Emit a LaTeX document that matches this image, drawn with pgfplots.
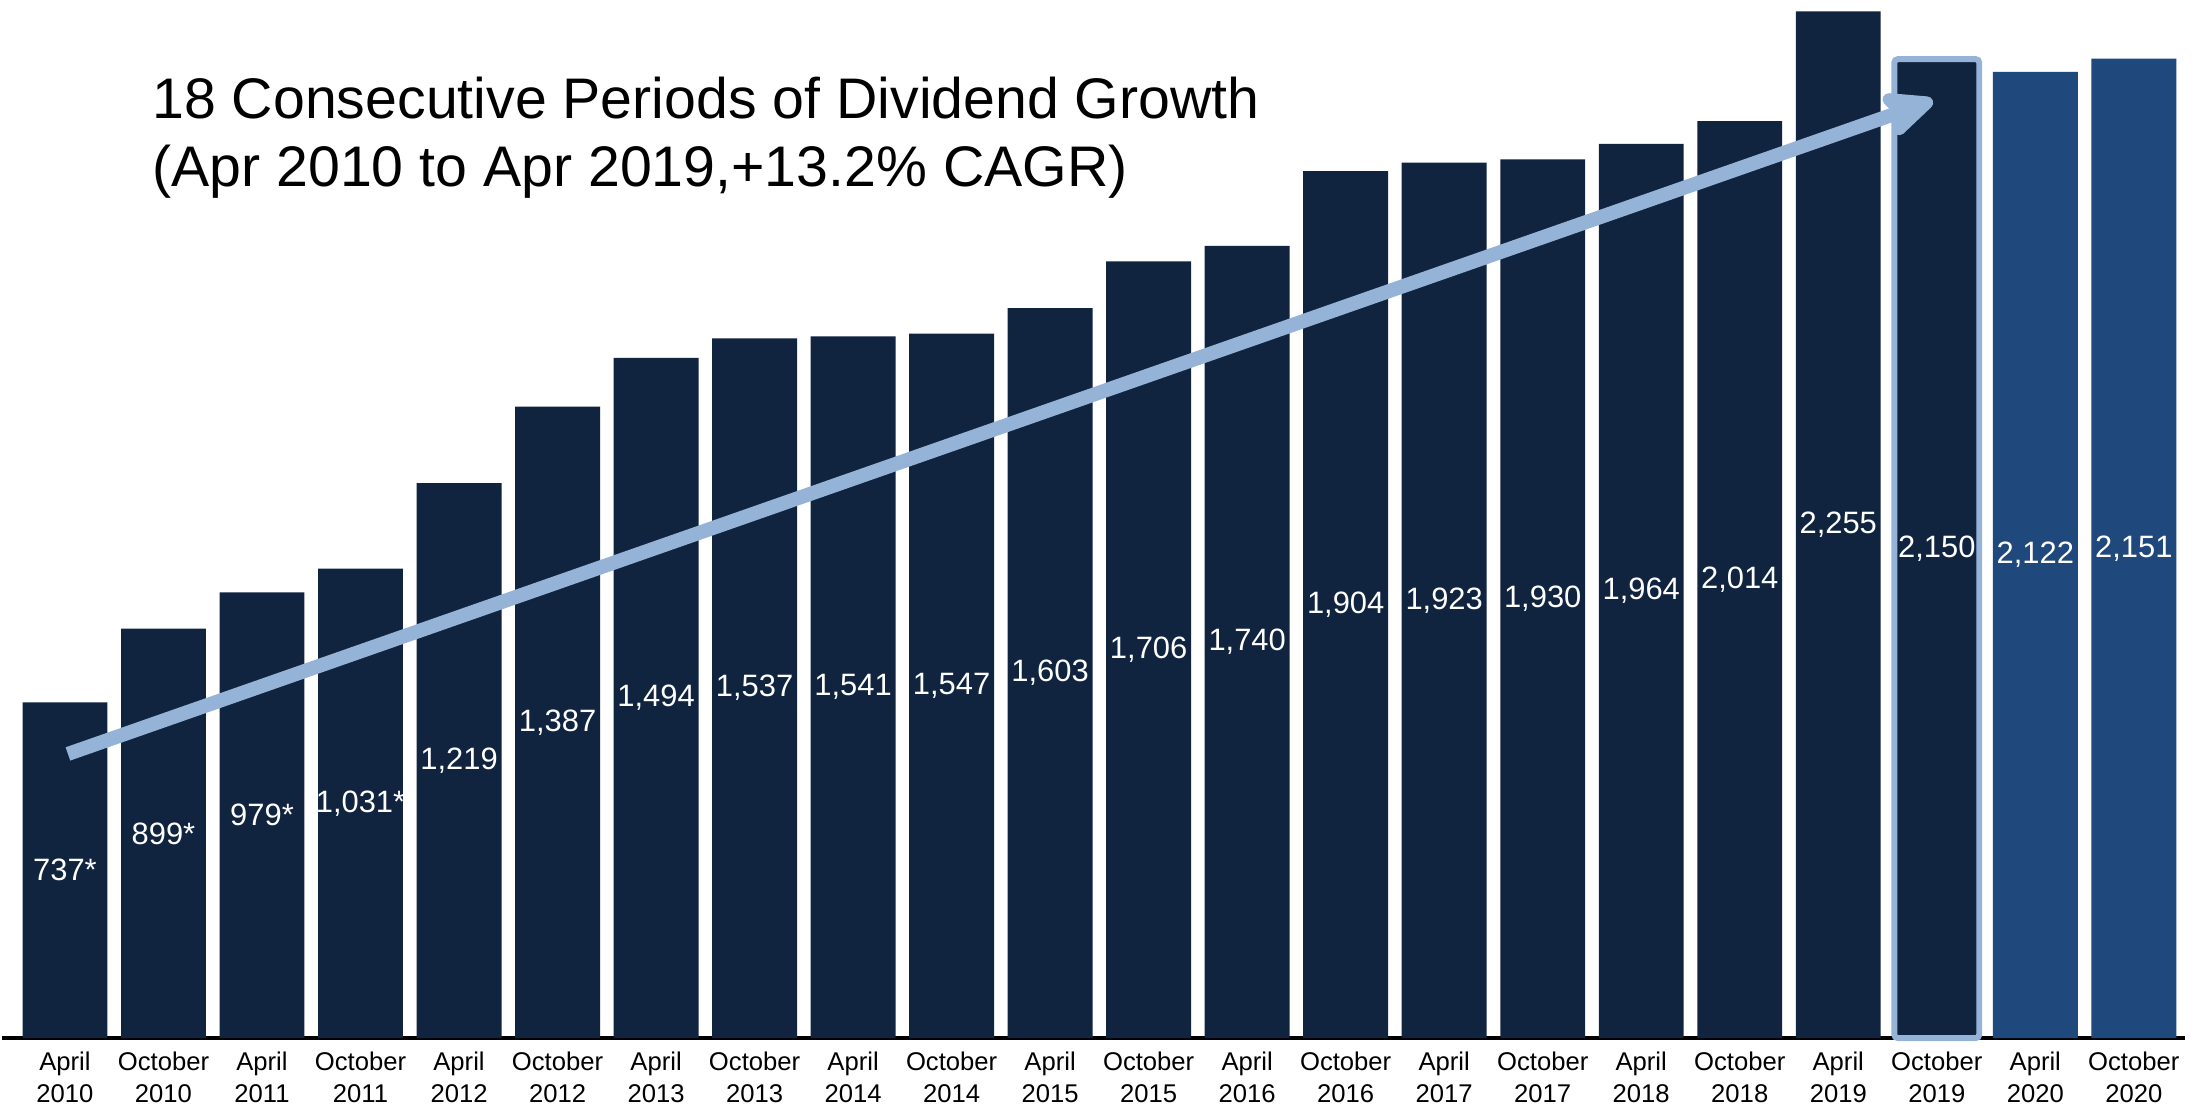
\documentclass[border=0pt]{standalone}
\usepackage{pgfplots}
\pgfplotsset{compat=1.18}
\usepackage{pgfplotstable}
\usepackage{fontspec}
\setmainfont{Liberation Sans}
\usetikzlibrary{arrows.meta}

\definecolor{navy}{RGB}{16,36,64}
\definecolor{midblue}{RGB}{31,72,124}
\definecolor{lightblue}{RGB}{149,179,215}

% dividend per period (pence), label as printed
\pgfplotstableread{
x y label
0 737 737*
1 899 899*
2 979 979*
3 1031 1,031*
4 1219 1,219
5 1387 1,387
6 1494 1,494
7 1537 1,537
8 1541 1,541
9 1547 1,547
10 1603 1,603
11 1706 1,706
12 1740 1,740
13 1904 1,904
14 1923 1,923
15 1930 1,930
16 1964 1,964
17 2014 2,014
18 2255 2,255
}\grew
\pgfplotstableread{
x y label
19 2150 2,150
}\held
\pgfplotstableread{
x y label
20 2122 2,122
21 2151 2,151
}\later

\begin{document}
\begin{tikzpicture}
\begin{axis}[
  name=ax,
  scale only axis,
  width=218.5mm, height=103.9mm,
  xmin=-0.639, xmax=21.52,
  ymin=0, ymax=2280,
  axis x line*=bottom,
  axis y line=none,
  x axis line style={line width=1.15pt, black},
  xtick={0,...,21},
  xticklabels={{April\\2010},{October\\2010},{April\\2011},{October\\2011},
    {April\\2012},{October\\2012},{April\\2013},{October\\2013},
    {April\\2014},{October\\2014},{April\\2015},{October\\2015},
    {April\\2016},{October\\2016},{April\\2017},{October\\2017},
    {April\\2018},{October\\2018},{April\\2019},{October\\2019},
    {April\\2020},{October\\2020}},
  xticklabel style={align=center, font=\fontsize{7.3}{8.9}\selectfont,
    inner ysep=0.3mm, yshift=-1.05mm},
  major tick length=0pt,
  ytick=\empty,
  clip=false,
  ybar, bar width=8.5mm,
  point meta=explicit symbolic,
  nodes near coords,
  visualization depends on={\thisrow{y} \as \rawy},
  nodes near coords style={anchor=center, text=white,
    font=\fontsize{8.8}{10}\selectfont,
    shift={(axis direction cs:0,-\rawy/2)}},
]
\addplot[fill=navy, draw=none, bar shift=0pt] table[x=x, y=y, meta=label] {\grew};
\addplot[fill=navy, draw=lightblue, line width=1.7pt, rounded corners=1pt, bar shift=0pt] table[x=x, y=y, meta=label] {\held};
\addplot[fill=midblue, draw=none, bar shift=0pt] table[x=x, y=y, meta=label] {\later};

\draw[lightblue, line width=4pt, -{Stealth[round, length=6.2mm, width=5.4mm, inset=1.2mm]}]
  (axis cs:0.03,624) -- (axis cs:18.96,2059);

\node[anchor=north west, align=left, inner sep=0pt,
  font=\fontsize{16.3}{19.1}\selectfont] at (rel axis cs:0.0686,0.926)
  {18 Consecutive Periods of Dividend Growth\\(Apr 2010 to Apr 2019,+13.2\% CAGR)};
\end{axis}
\path (ax.north west) (ax.south west) ++(219.4mm,0);
\end{tikzpicture}
\end{document}
